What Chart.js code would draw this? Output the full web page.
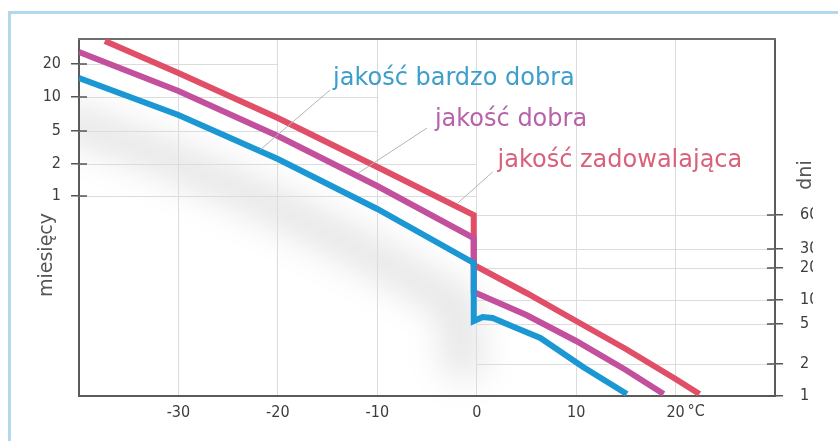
<!DOCTYPE html>
<html>
<head>
<meta charset="utf-8">
<script src="https://cdn.jsdelivr.net/npm/chart.js@4.4.1/dist/chart.umd.min.js"></script>
<style>
  html, body { margin: 0; padding: 0; background: #ffffff; }
  body { width: 838px; height: 441px; overflow: hidden; position: relative; }
  #frame { position: absolute; left: 8px; top: 11px; width: 900px; height: 500px;
           border-left: 3px solid #b3d7ed; border-top: 3px solid #b3d7ed; background: #ffffff; }
  #wrap { position: absolute; left: 0; top: 0; width: 813px; height: 441px; overflow: hidden; }
  canvas { display: block; }
</style>
</head>
<body>
<div id="frame"></div>
<div id="wrap"><canvas id="chart" width="838" height="441"></canvas></div>
<script>
// Temperature axis (°C)
const tempTicks  = [-30, -20, -10, 0, 10, 20];
const tempLabels = ['-30', '-20', '-10', '0', '10', '20'];

// Combined storage-time axis: months on the left, days on the right.
// Values are positions along the vertical axis (0 = 1 day at the bottom).
const monthLevels = [332, 299, 265, 232, 200];
const monthLabels = ['20', '10', '5', '2', '1'];
const dayLevels   = [181, 147, 128, 96, 72, 32, 0];
const dayLabels   = ['60', '30', '20', '10', '5', '2', '1'];

// Quality classes
const seriesNames = ['jakość bardzo dobra', 'jakość dobra', 'jakość zadowalająca'];

// jakość bardzo dobra
const veryGoodTemp  = [-40, -30, -20, -10, -0.3, -0.3, 0.6, 1.6, 3.5, 6.4, 10.7, 15.1];
const veryGoodLevel = [318, 281, 237, 187, 133, 75, 79, 78, 70, 58, 29, 2];
// jakość dobra
const goodTemp  = [-40, -30, -20, -10, -0.3, -0.3, 5, 10, 15, 18.8];
const goodLevel = [344, 305, 260, 210, 158, 104, 81, 55, 26, 2];
// jakość zadowalająca
const fairTemp  = [-37.4, -30, -20, -10, -0.3, -0.3, 5, 10, 15, 20, 22.4];
const fairLevel = [355, 323, 278, 229, 181, 131, 103, 75, 47, 17, 2];

const lineColors  = ['#1b97d4', '#c2509d', '#e04f67'];
const labelColors = ['#3d9dcb', '#b862aa', '#d9617a'];

// Month grid lines run from the left edge to these temperatures
const monthGridEnd = [-20, -10, -10, 0, 0];

// Series label placement (temperature, level) and leader lines
const labelSpots = [
  { text: [-14.45, 311], from: [-14.75, 306], to: [-21.8, 246] },
  { text: [-4.2, 270],   from: [-5.0, 268],   to: [-11.9, 223] },
  { text: [2.1, 229],    from: [1.6, 224],    to: [-1.9, 193] }
];

const TICK_FONT = { family: '"DejaVu Sans Condensed", "DejaVu Sans"', size: 16 };
const AXIS_COLOR = '#5b5b5b';

const toPoints = (t, v) => t.map((x, i) => ({ x, y: v[i] }));

const decorations = {
  id: 'decorations',
  beforeDraw(chart) {
    // soft drop shadow cast by the lowest curve
    const { ctx, chartArea: a } = chart;
    const xs = chart.scales.x, ys = chart.scales.y;
    ctx.save();
    ctx.beginPath();
    ctx.rect(a.left, a.top, a.right - a.left, chart.height - a.top);
    ctx.clip();
    ctx.filter = 'blur(18px)';
    ctx.strokeStyle = 'rgba(0,0,0,0.12)';
    ctx.lineWidth = 30;
    ctx.lineJoin = 'round';
    ctx.lineCap = 'round';
    ctx.beginPath();
    const n = 7; // upper branch, the drop and the start of the lower branch
    for (let i = 0; i < n; i++) {
      const px = xs.getPixelForValue(veryGoodTemp[i]) - 14;
      const py = ys.getPixelForValue(veryGoodLevel[i]) + 42;
      if (i) ctx.lineTo(px, py); else ctx.moveTo(px, py);
    }
    ctx.stroke();
    ctx.restore();
  },
  beforeDatasetsDraw(chart) {
    const { ctx, chartArea: a } = chart;
    const xs = chart.scales.x, yl = chart.scales.y, yr = chart.scales.y2;
    ctx.save();
    ctx.lineWidth = 1;
    ctx.strokeStyle = '#dcdcdc';
    // month grid lines
    monthLevels.forEach((v, i) => {
      const py = Math.round(yl.getPixelForValue(v)) + 0.5;
      ctx.beginPath();
      ctx.moveTo(a.left, py);
      ctx.lineTo(xs.getPixelForValue(monthGridEnd[i]), py);
      ctx.stroke();
    });
    // day grid lines
    dayLevels.forEach(v => {
      if (v <= 0) return;
      const py = Math.round(yr.getPixelForValue(v)) + 0.5;
      ctx.beginPath();
      ctx.moveTo(xs.getPixelForValue(0), py);
      ctx.lineTo(a.right, py);
      ctx.stroke();
    });
    // top frame line
    ctx.strokeStyle = '#6e6e6e';
    ctx.lineWidth = 2;
    ctx.beginPath();
    ctx.moveTo(a.left - 1, a.top);
    ctx.lineTo(a.right + 1, a.top);
    ctx.stroke();
    // inner halves of the tick marks
    ctx.strokeStyle = '#555555';
    ctx.lineWidth = 1.5;
    monthLevels.forEach(v => {
      const py = yl.getPixelForValue(v);
      ctx.beginPath(); ctx.moveTo(a.left, py); ctx.lineTo(a.left + 8, py); ctx.stroke();
    });
    dayLevels.forEach(v => {
      const py = yr.getPixelForValue(v);
      ctx.beginPath(); ctx.moveTo(a.right, py); ctx.lineTo(a.right - 8, py); ctx.stroke();
    });
    ctx.restore();
  },
  afterDraw(chart) {
    const { ctx, chartArea: a } = chart;
    const xs = chart.scales.x, ys = chart.scales.y;
    ctx.save();
    // leader lines
    ctx.strokeStyle = '#b4b4b4';
    ctx.lineWidth = 1;
    labelSpots.forEach(s => {
      ctx.beginPath();
      ctx.moveTo(xs.getPixelForValue(s.from[0]), ys.getPixelForValue(s.from[1]));
      ctx.lineTo(xs.getPixelForValue(s.to[0]), ys.getPixelForValue(s.to[1]));
      ctx.stroke();
    });
    // series names
    ctx.font = '24px "DejaVu Sans"';
    ctx.textBaseline = 'alphabetic';
    ctx.textAlign = 'left';
    labelSpots.forEach((s, i) => {
      ctx.fillStyle = labelColors[i];
      ctx.fillText(seriesNames[i], xs.getPixelForValue(s.text[0]), ys.getPixelForValue(s.text[1]));
    });
    // unit next to the last temperature label
    ctx.font = '16px "DejaVu Sans Condensed", "DejaVu Sans"';
    ctx.fillStyle = '#3c3c3c';
    ctx.textBaseline = 'middle';
    ctx.fillText('°C', xs.getPixelForValue(20) + 12, a.bottom + 16);
    // axis titles
    ctx.font = '19px "DejaVu Sans"';
    ctx.fillStyle = '#555555';
    ctx.textAlign = 'center';
    ctx.textBaseline = 'alphabetic';
    ctx.translate(52, 255);
    ctx.rotate(-Math.PI / 2);
    ctx.fillText('miesięcy', 0, 0);
    ctx.setTransform(1, 0, 0, 1, 0, 0);
    ctx.translate(811, 175);
    ctx.rotate(-Math.PI / 2);
    ctx.fillText('dni', 0, 0);
    ctx.restore();
  }
};

const mkSet = (i, t, v) => ({
  label: seriesNames[i],
  data: toPoints(t, v),
  borderColor: lineColors[i],
  borderWidth: 6,
  pointRadius: 0,
  tension: 0,
  borderJoinStyle: 'miter',
  borderCapStyle: 'butt',
  fill: false
});

new Chart(document.getElementById('chart'), {
  type: 'line',
  data: {
    datasets: [
      mkSet(0, veryGoodTemp, veryGoodLevel),
      mkSet(1, goodTemp, goodLevel),
      mkSet(2, fairTemp, fairLevel)
    ]
  },
  options: {
    responsive: false,
    animation: false,
    layout: { padding: { top: 39, left: 0, right: 0, bottom: 0 } },
    plugins: { legend: { display: false }, tooltip: { enabled: false } },
    scales: {
      x: {
        type: 'linear', min: -40, max: 30,
        afterBuildTicks: s => { s.ticks = tempTicks.map(v => ({ value: v })); },
        afterFit: s => { s.height = 45; },
        ticks: {
          font: TICK_FONT, color: '#3c3c3c', padding: 7, maxRotation: 0, autoSkip: false,
          callback: v => tempLabels[tempTicks.indexOf(v)]
        },
        grid: { color: '#dcdcdc', lineWidth: 1, drawTicks: false },
        border: { display: true, color: AXIS_COLOR, width: 2 }
      },
      y: {
        type: 'linear', position: 'left', min: 0, max: 357,
        afterBuildTicks: s => { s.ticks = monthLevels.map(v => ({ value: v })); },
        afterFit: s => { s.width = 79; },
        ticks: {
          font: TICK_FONT, color: '#3c3c3c', padding: 10, autoSkip: false,
          callback: v => monthLabels[monthLevels.indexOf(v)]
        },
        grid: { drawOnChartArea: false, drawTicks: true, tickLength: 8, color: '#555555', lineWidth: 1.5 },
        border: { display: true, color: AXIS_COLOR, width: 2 }
      },
      y2: {
        type: 'linear', position: 'right', min: 0, max: 357,
        afterBuildTicks: s => { s.ticks = dayLevels.map(v => ({ value: v })); },
        afterFit: s => { s.width = 63; },
        ticks: {
          font: TICK_FONT, color: '#3c3c3c', padding: 17, autoSkip: false,
          callback: v => dayLabels[dayLevels.indexOf(v)]
        },
        grid: { drawOnChartArea: false, drawTicks: true, tickLength: 8, color: '#555555', lineWidth: 1.5 },
        border: { display: true, color: AXIS_COLOR, width: 2 }
      }
    }
  },
  plugins: [decorations]
});
</script>
</body>
</html>
